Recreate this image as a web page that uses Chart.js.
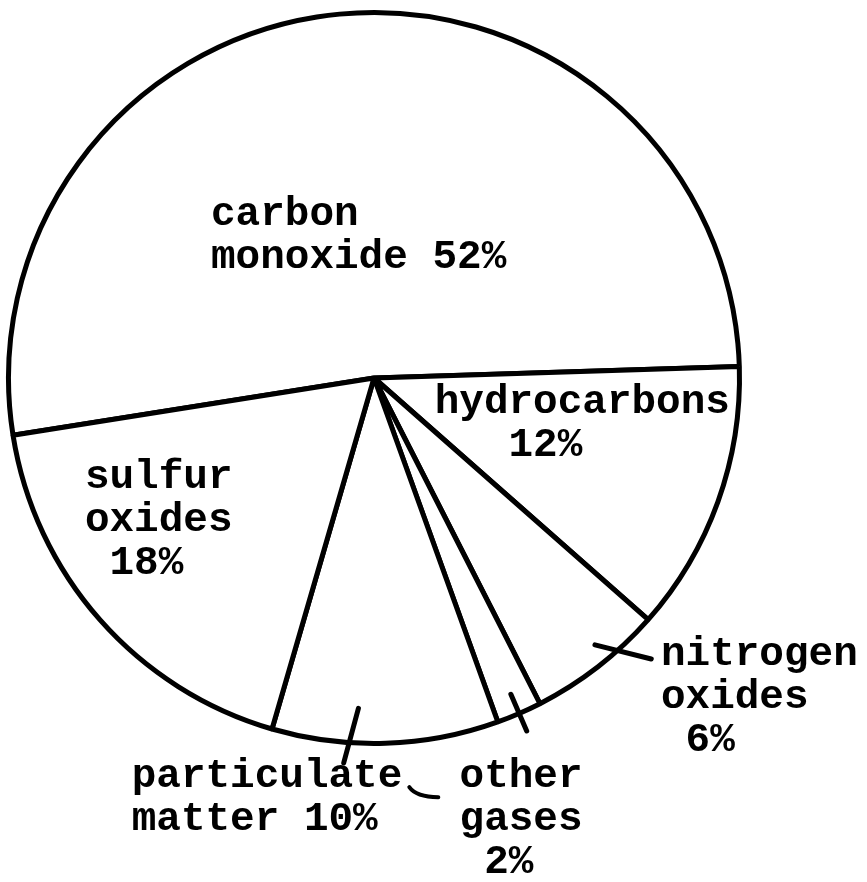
<!DOCTYPE html>
<html>
<head>
<meta charset="utf-8">
<script src="https://cdn.jsdelivr.net/npm/chart.js@4.4.1/dist/chart.umd.min.js"></script>
<style>
  html, body { margin: 0; padding: 0; background: #fff; }
  #wrap { width: 867px; height: 882px; }
</style>
</head>
<body>
<div id="wrap"><canvas id="pie" width="867" height="882"></canvas></div>
<script>
const categories = ["carbon monoxide", "hydrocarbons", "nitrogen oxides", "other gases", "particulate matter", "sulfur oxides"];
const shares = [52, 12, 6, 2, 10, 18];

// label placement, as offsets from the pie centre in radii
const labelLayout = [
  { x: -0.446, y: -0.448, rows: [1, 1], pct: "inline" },
  { x: 0.166, y: 0.068, rows: [1], pct: "row", indent: 3 },
  { x: 0.785, y: 0.758, rows: [1, 1], pct: "row", indent: 1 },
  { x: 0.234, y: 1.092, rows: [1, 1], pct: "row", indent: 1 },
  { x: -0.663, y: 1.092, rows: [1, 1], pct: "inline" },
  { x: -0.791, y: 0.272, rows: [1, 1], pct: "row", indent: 1 },
];

// hand drawn pointer strokes (slice, spot inside slice, radii, angle nudge in deg)
const pointers = [
  { slice: 2, t: 0.3, r0: 0.948, r1: 1.08, a0: 2.5, a1: -2.5 },
  { slice: 4, t: 0.65, r0: 0.905, r1: 1.056, a0: -0.9, a1: 0.9 },
  { slice: 3, t: 0.5, r0: 0.943, r1: 1.052, a0: 0, a1: 0 },
];

const FONT = "bold 41px 'Liberation Mono', 'Courier New', monospace";
const LINE_H = 43;

function rowsFor(i) {
  const lay = labelLayout[i];
  const words = categories[i].split(" ");
  const out = [];
  let w = 0;
  lay.rows.forEach((n) => {
    out.push(words.slice(w, w + n).join(" "));
    w += n;
  });
  const pct = shares[i] + "%";
  if (lay.pct === "inline") out[out.length - 1] += " " + pct;
  else out.push(" ".repeat(lay.indent || 0) + pct);
  return out;
}

const typedLabels = {
  id: "typedLabels",
  afterDatasetsDraw(chart) {
    const meta = chart.getDatasetMeta(0);
    const arcs = meta.data;
    const cx = arcs[0].x, cy = arcs[0].y, r = arcs[0].outerRadius;
    const ctx = chart.ctx;
    ctx.save();
    ctx.font = FONT;
    ctx.fillStyle = "#000";
    ctx.textAlign = "left";
    ctx.textBaseline = "middle";
    const cw = ctx.measureText("M").width;

    labelLayout.forEach((lay, i) => {
      const x = cx + lay.x * r;
      const y = cy + lay.y * r;
      rowsFor(i).forEach((row, k) => ctx.fillText(row, x, y + k * LINE_H));
    });

    ctx.strokeStyle = "#000";
    ctx.lineCap = "round";
    ctx.lineWidth = 5;
    pointers.forEach((p) => {
      const a = arcs[p.slice];
      const mid = a.startAngle + p.t * (a.endAngle - a.startAngle);
      const a0 = mid + (p.a0 * Math.PI) / 180;
      const a1 = mid + (p.a1 * Math.PI) / 180;
      ctx.beginPath();
      ctx.moveTo(cx + Math.cos(a0) * r * p.r0, cy + Math.sin(a0) * r * p.r0);
      ctx.lineTo(cx + Math.cos(a1) * r * p.r1, cy + Math.sin(a1) * r * p.r1);
      ctx.stroke();
    });

    // the little tail after "particulate"
    const pm = labelLayout[4];
    const tx = cx + pm.x * r + rowsFor(4)[0].length * cw;
    const ty = cy + pm.y * r;
    ctx.lineWidth = 4;
    ctx.beginPath();
    ctx.moveTo(tx + 7, ty + 10);
    ctx.quadraticCurveTo(tx + 14, ty + 20, tx + 36, ty + 20);
    ctx.stroke();
    ctx.restore();
  },
};

new Chart(document.getElementById("pie"), {
  type: "pie",
  data: {
    labels: categories,
    datasets: [
      {
        data: shares,
        backgroundColor: "#fff",
        borderColor: "#000",
        borderWidth: 5,
        hoverOffset: 0,
      },
    ],
  },
  options: {
    responsive: false,
    animation: false,
    events: [],
    rotation: 261,
    layout: { padding: { left: 6, right: 125, top: 10, bottom: 136 } },
    plugins: {
      legend: { display: false },
      tooltip: { enabled: false },
      title: { display: false },
    },
  },
  plugins: [typedLabels],
});
</script>
</body>
</html>
